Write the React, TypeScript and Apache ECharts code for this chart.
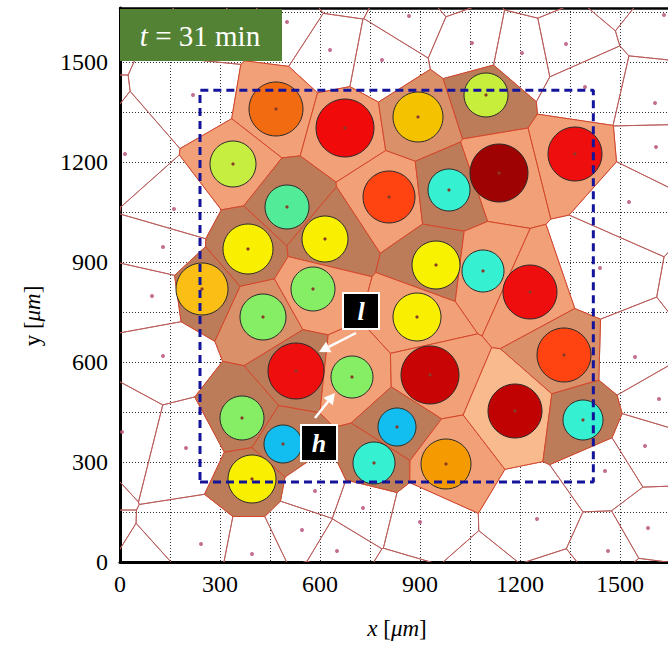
import React, { useEffect, useRef } from "react";
import * as echarts from "echarts";

const AXIS_MAX = 1662;
const GRID_STEP = 150;
const LABEL_STEP = 300;

// Cells with cells-of-interest circles (seed position, circle radius in µm)
const cellX = [468, 675, 894, 1098, 1137, 1365, 339, 501, 807, 987, 384, 615, 948, 1089, 1230, 246, 429, 579, 891, 528, 696, 930, 366, 489, 396, 831, 762, 978, 1185, 1332, 1389];
const cellY = [1359, 1302, 1335, 1401, 1167, 1224, 1194, 1065, 1095, 1116, 939, 969, 891, 873, 810, 819, 735, 819, 735, 573, 555, 561, 432, 354, 249, 405, 297, 294, 453, 621, 426];
const cellR = [81, 87, 75, 66, 87, 81, 69, 66, 78, 63, 75, 69, 72, 63, 81, 78, 69, 66, 72, 84, 63, 87, 66, 57, 72, 57, 63, 75, 81, 81, 60];
const circleColor = ["#F26B10", "#F00A0A", "#F5C200", "#C8EE3C", "#9E0202", "#EE0E0E", "#C6EE40", "#52EB98", "#FF4412", "#36F0D2", "#F8F000", "#F8F000", "#F8F200", "#36F0D2", "#EE0E0E", "#FBBE14", "#86EE64", "#86EE64", "#F8F000", "#EE0E0E", "#86EE64", "#C80404", "#86EE64", "#12BEF0", "#F8F000", "#12BEF0", "#36F0D2", "#F59A00", "#C00202", "#FF4412", "#36F0D2"];
const cellShade = ["S", "S", "M", "B", "S", "S", "S", "B", "S", "B", "B", "B", "B", "S", "S", "B", "M", "S", "S", "B", "S", "S", "B", "B", "B", "B", "B", "S", "L", "M", "B"];
const shadeColor: Record<string, string> = { S: "#F2A077", M: "#DA9068", B: "#BC7C59", L: "#F9BB8E" };

// Surrounding (uncoloured) cells: visible seeds
const outerX = [501, 219, 15, 162, 129, 96, 630, 867, 1056, 786, 1206, 1338, 1632, 1395, 1605, 1608, 1527, 1440, 1545, 1617, 1575, 1455, 1251, 1584, 1464, 729, 900, 651, 585, 129, 6, 198, 243, 396, 546, 240];
const outerY = [1620, 1401, 1224, 1059, 945, 798, 1536, 1638, 1557, 1506, 1527, 1554, 1641, 1425, 1377, 1245, 1080, 882, 615, 489, 348, 273, 129, 102, 33, 162, 120, 33, 213, 618, 390, 342, 54, 24, 96, 1611];
// Seeds lying just outside the plotted window
const edgeX = [-150, -150, -150, -150, -150, -150, -150, -150, 120, 360, 660, 990, 1260, 1500, 1800, 1800, 1800, 1800, 1800, 1800, 1800, 1800, 90, 330, 600, 840, 1080, 1320, 1560];
const edgeY = [1566, 1356, 1116, 876, 666, 486, 246, 66, 1746, 1746, 1746, 1746, 1746, 1746, 1506, 1296, 1056, 816, 606, 396, 186, 6, -84, -84, -84, -84, -84, -84, -84];

// Region of interest (dashed rectangle)
const roiX = [240, 1420];
const roiY = [240, 1415];

// Annotations
const annText = ["l", "h"];
const annBoxX = [723, 597];
const annBoxY = [753, 357];
const annTailX = [708, 585];
const annTailY = [687, 432];
const annTipX = [597, 645];
const annTipY = [630, 507];

const FONT = "Liberation Serif";

type Pt = [number, number];

function clipPoly(poly: Pt[], a: number, b: number, c: number): Pt[] {
  const out: Pt[] = [];
  for (let i = 0; i < poly.length; i++) {
    const p = poly[i];
    const q = poly[(i + 1) % poly.length];
    const fp = a * p[0] + b * p[1] - c;
    const fq = a * q[0] + b * q[1] - c;
    if (fp <= 0) out.push(p);
    if (fp <= 0 !== fq <= 0) {
      const t = fp / (fp - fq);
      out.push([p[0] + t * (q[0] - p[0]), p[1] + t * (q[1] - p[1])]);
    }
  }
  return out;
}

function voronoi(seeds: Pt[], lo: number, hi: number): Pt[][] {
  return seeds.map((s, i) => {
    let poly: Pt[] = [
      [lo, lo],
      [hi, lo],
      [hi, hi],
      [lo, hi],
    ];
    for (let j = 0; j < seeds.length; j++) {
      if (j === i || poly.length === 0) continue;
      const o = seeds[j];
      const a = o[0] - s[0];
      const b = o[1] - s[1];
      const mx = (o[0] + s[0]) / 2;
      const my = (o[1] + s[1]) / 2;
      poly = clipPoly(poly, a, b, a * mx + b * my);
    }
    return poly;
  });
}

export default function App() {
  const ref = useRef<HTMLDivElement>(null);

  useEffect(() => {
    if (!ref.current) return;
    const chart = echarts.init(ref.current, undefined, { renderer: "svg" });

    const innerSeeds: Pt[] = cellX.map((x, i) => [x, cellY[i]]);
    const outerSeeds: Pt[] = outerX.map((x, i) => [x, outerY[i]]);
    const edgeSeeds: Pt[] = edgeX.map((x, i) => [x, edgeY[i]]);
    const all: Pt[] = [...innerSeeds, ...outerSeeds, ...edgeSeeds];
    const polys = voronoi(all, -300, AXIS_MAX + 300);
    const nInner = innerSeeds.length;

    const cellItem = (fillFor: (i: number) => string, stroke: string, lw: number) => (params: any, api: any) => {
      const idx = api.value(2);
      const poly = polys[idx];
      if (!poly || poly.length < 3) return null;
      const points = poly.map((p) => api.coord(p));
      return {
        type: "polygon",
        shape: { points },
        style: { fill: fillFor(idx), stroke, lineWidth: lw },
      };
    };

    const whiteData = all.map((s, i) => [s[0], s[1], i]).filter((d) => d[2] >= nInner);
    const colorData = innerSeeds.map((s, i) => [s[0], s[1], i]);

    const axisCommon = {
      min: 0,
      max: AXIS_MAX,
      interval: GRID_STEP,
      axisLine: { show: true, onZero: false, lineStyle: { color: "#000", width: 3 } },
      axisTick: { show: false },
      splitLine: { show: true, lineStyle: { color: "#333", width: 1, type: [1, 2] } },
      axisLabel: {
        showMaxLabel: false,
        fontFamily: FONT,
        fontSize: 24,
        color: "#000",
        formatter: (v: number) => (v % LABEL_STEP === 0 ? String(v) : ""),
      },
    };

    chart.setOption({
      animation: false,
      backgroundColor: "#fff",
      grid: {
        left: 120,
        top: 8,
        width: 554,
        height: 554,
        show: false,
      },
      xAxis: [
        {
          type: "value",
          ...axisCommon,
          axisLabel: { ...axisCommon.axisLabel, margin: 10 },
        },
        {
          type: "value",
          position: "top",
          min: 0,
          max: AXIS_MAX,
          axisLine: { show: true, onZero: false, lineStyle: { color: "#000", width: 2.5 } },
          axisTick: { show: false },
          axisLabel: { show: false },
          splitLine: { show: false },
        },
      ],
      yAxis: {
        type: "value",
        ...axisCommon,
        axisLabel: { ...axisCommon.axisLabel, margin: 12 },
      },
      series: [
        {
          type: "custom",
          silent: true,
          clip: true,
          renderItem: cellItem(() => "none", "#B85A58", 0.9),
          data: whiteData,
          encode: { x: 0, y: 1 },
        },
        {
          type: "custom",
          silent: true,
          clip: true,
          renderItem: cellItem((i) => shadeColor[cellShade[i]], "#D4462A", 1),
          data: colorData,
          encode: { x: 0, y: 1 },
        },
        {
          type: "scatter",
          silent: true,
          symbol: "circle",
          symbolSize: 4,
          itemStyle: { color: "#B8567E", opacity: 0.85 },
          data: outerSeeds,
        },
        {
          type: "custom",
          silent: true,
          clip: true,
          data: cellX.map((x, i) => [x, cellY[i], cellR[i], i]),
          encode: { x: 0, y: 1 },
          renderItem: (params: any, api: any) => {
            const c = api.coord([api.value(0), api.value(1)]);
            const r = api.size([api.value(2), api.value(2)])[0];
            const i = api.value(3);
            return {
              type: "group",
              children: [
                {
                  type: "circle",
                  shape: { cx: c[0], cy: c[1], r },
                  style: { fill: circleColor[i], stroke: "#2A2A2A", lineWidth: 1 },
                },
                {
                  type: "circle",
                  shape: { cx: c[0], cy: c[1], r: 1.6 },
                  style: { fill: "#8A3A28" },
                },
              ],
            };
          },
        },
        {
          type: "line",
          silent: true,
          symbol: "none",
          lineStyle: { color: "#14149A", width: 3, type: [8, 5] },
          data: [
            [roiX[0], roiY[0]],
            [roiX[1], roiY[0]],
            [roiX[1], roiY[1]],
            [roiX[0], roiY[1]],
            [roiX[0], roiY[0]],
          ],
          z: 5,
        },
        {
          type: "custom",
          silent: true,
          z: 6,
          data: annText.map((t, i) => [annBoxX[i], annBoxY[i], i]),
          encode: { x: 0, y: 1 },
          renderItem: (params: any, api: any) => {
            const i = api.value(2);
            const c = api.coord([annBoxX[i], annBoxY[i]]);
            const tail = api.coord([annTailX[i], annTailY[i]]);
            const tip = api.coord([annTipX[i], annTipY[i]]);
            const dx = tip[0] - tail[0];
            const dy = tip[1] - tail[1];
            const len = Math.sqrt(dx * dx + dy * dy);
            const ux = dx / len;
            const uy = dy / len;
            const hl = 11;
            const hw = 6;
            const bx = tip[0] - ux * hl;
            const by = tip[1] - uy * hl;
            return {
              type: "group",
              children: [
                {
                  type: "line",
                  shape: { x1: tail[0], y1: tail[1], x2: bx, y2: by },
                  style: { stroke: "#fff", lineWidth: 2.5 },
                },
                {
                  type: "polygon",
                  shape: {
                    points: [
                      [tip[0], tip[1]],
                      [bx - uy * hw, by + ux * hw],
                      [bx + uy * hw, by - ux * hw],
                    ],
                  },
                  style: { fill: "#fff" },
                },
                {
                  type: "rect",
                  shape: { x: c[0] - 18, y: c[1] - 18, width: 36, height: 36 },
                  style: { fill: "#000", stroke: "#fff", lineWidth: 2 },
                },
                {
                  type: "text",
                  style: {
                    x: c[0],
                    y: c[1],
                    text: annText[i],
                    fill: "#fff",
                    fontFamily: FONT,
                    fontSize: 26,
                    fontWeight: "bold",
                    fontStyle: "italic",
                    align: "center",
                    verticalAlign: "middle",
                  },
                },
              ],
            };
          },
        },
      ],
      graphic: [
        {
          type: "rect",
          z: 100,
          shape: { x: 120, y: 9, width: 162, height: 52 },
          style: { fill: "#548235" },
        },
        {
          type: "text",
          z: 101,
          x: 200,
          y: 36,
          style: {
            text: "{i|t} = 31 min",
            fill: "#fff",
            fontFamily: FONT,
            fontSize: 29,
            align: "center",
            verticalAlign: "middle",
            rich: { i: { fontStyle: "italic", fontFamily: FONT, fontSize: 29, fill: "#fff" } },
          },
        },
        {
          type: "text",
          z: 101,
          x: 397,
          y: 628,
          style: {
            text: "{i|x} [{i|μm}]",
            fill: "#000",
            fontFamily: FONT,
            fontSize: 23,
            align: "center",
            verticalAlign: "middle",
            rich: { i: { fontStyle: "italic", fontFamily: FONT, fontSize: 23, fill: "#000" } },
          },
        },
        {
          type: "text",
          z: 101,
          x: 32,
          y: 316,
          rotation: Math.PI / 2,
          style: {
            text: "y [{i|μm}]",
            fill: "#000",
            fontFamily: FONT,
            fontSize: 23,
            align: "center",
            verticalAlign: "middle",
            rich: { i: { fontStyle: "italic", fontFamily: FONT, fontSize: 23, fill: "#000" } },
          },
        },
      ],
    });

    return () => chart.dispose();
  }, []);

  return (
    <div
      style={{
        position: "absolute",
        left: 0,
        top: 0,
        width: 668,
        height: 647,
        overflow: "hidden",
      }}
    >
      <div ref={ref} style={{ width: 700, height: 647 }} />
    </div>
  );
}
